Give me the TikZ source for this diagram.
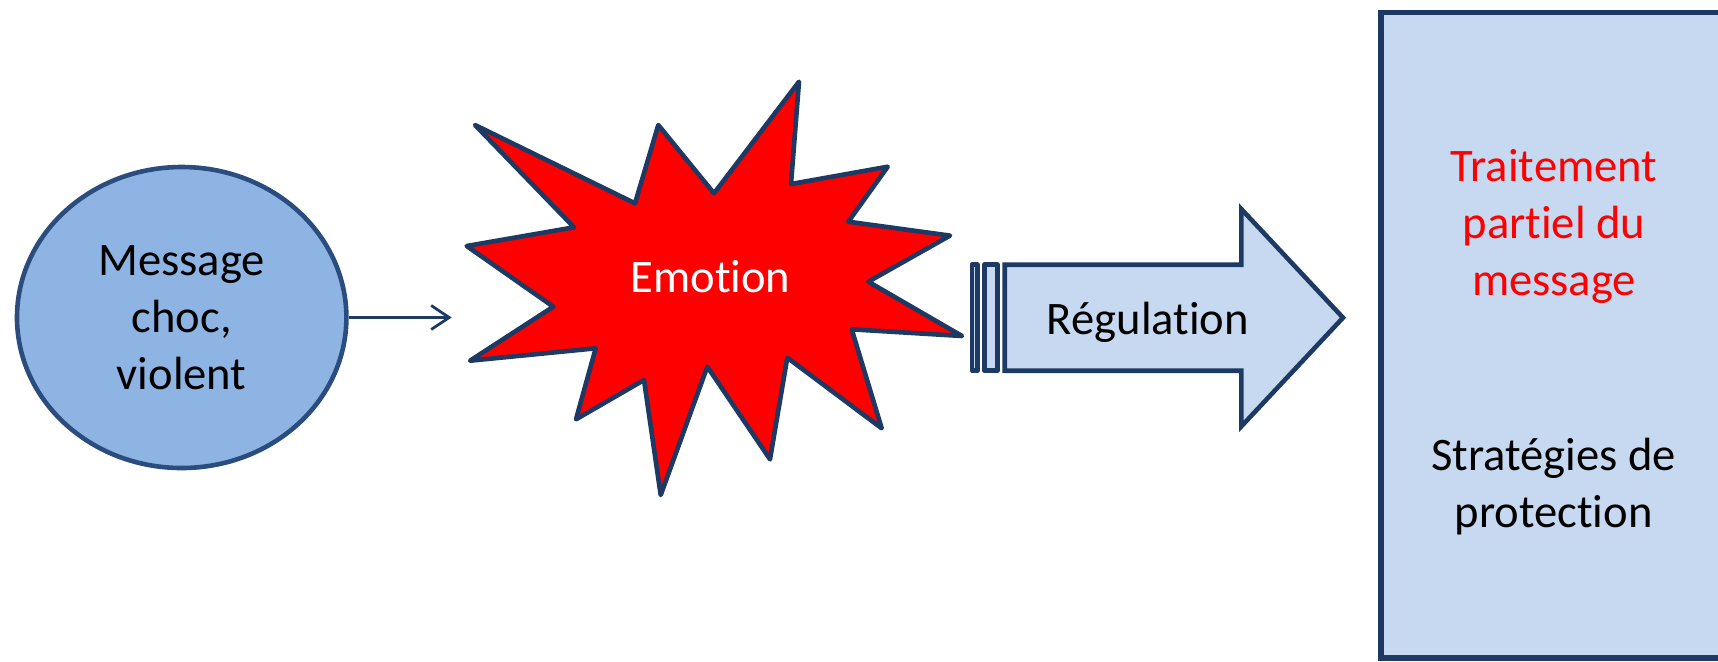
\documentclass[tikz,border=0pt]{standalone}
\usepackage{fontspec}
\setmainfont[Ligatures=NoCommon]{Carlito}
\usetikzlibrary{shapes.geometric,arrows.meta}
\definecolor{msgfill}{HTML}{8EB4E3}
\definecolor{msgline}{HTML}{2B4C7E}
\definecolor{navy}{HTML}{1C3A63}
\definecolor{lightfill}{HTML}{C6D9F1}
\definecolor{burst}{HTML}{FF0000}
\tikzset{
  txt/.style={font=\fontsize{23.3pt}{28.5pt}\selectfont, align=center, inner sep=0pt},
  shapeline/.style={draw=navy, line width=2.3pt, line join=round},
  connector/.style={draw=navy, line width=1.4pt, -{Straight Barb[length=9pt,width=12pt]}}
}
\begin{document}
\begin{tikzpicture}[x=0.5pt,y=-0.5pt]
\useasboundingbox (0,0) rectangle (1718,661);
\clip (0,0) rectangle (1718,661);
% message ellipse
\node[ellipse, draw=msgline, fill=msgfill, line width=2.3pt, minimum width=164.7pt, minimum height=150.5pt, inner sep=0pt, txt] (msg) at (181.7,317.5) {Message\\choc,\\violent};
% starburst
\path[shapeline, fill=burst]
  (475,125) -- (635,203.3) -- (658.3,125) -- (714,193.3) -- (799,81.7) -- (791,184)
  -- (887.7,166.7) -- (848.3,221.7) -- (950,235.6) -- (868.3,281.7) -- (962,336)
  -- (851.7,329.3) -- (881.7,428.3) -- (787.3,357.7) -- (770,459.3) -- (707.3,366.7)
  -- (660.7,495) -- (644,380) -- (576,419.3) -- (595.7,348.3) -- (470,360.7)
  -- (553.3,306.7) -- (466.7,246) -- (574,227.3) -- cycle;
\node[txt, text=white, anchor=base] (emo) at (710.5,292.3) {Emotion};
\coordinate (emoin) at (451.7,317.5);
\draw[connector] (msg.east) -- (emoin);
% striped arrow
\path[shapeline, fill=lightfill] (972,264.7) rectangle (977.3,370.7);
\path[shapeline, fill=lightfill] (984.3,264.7) rectangle (997.3,370.7);
\path[shapeline, fill=lightfill, line join=miter]
  (1004.7,264.7) -- (1241.3,264.7) -- (1241.3,209) -- (1343,317.7) -- (1241.3,426.4)
  -- (1241.3,370.7) -- (1004.7,370.7) -- cycle;
\node[txt, anchor=base] (reg) at (1148,334) {Régulation};
% result box
\path[draw=navy, fill=lightfill, line width=2.6pt] (1381,12.5) rectangle (1740,658);
\node[txt, text=burst] (trait) at (1554,226) {Traitement\\partiel du\\message};
\node[txt] (strat) at (1553.5,486.5) {Stratégies de\\protection};
\end{tikzpicture}
\end{document}
